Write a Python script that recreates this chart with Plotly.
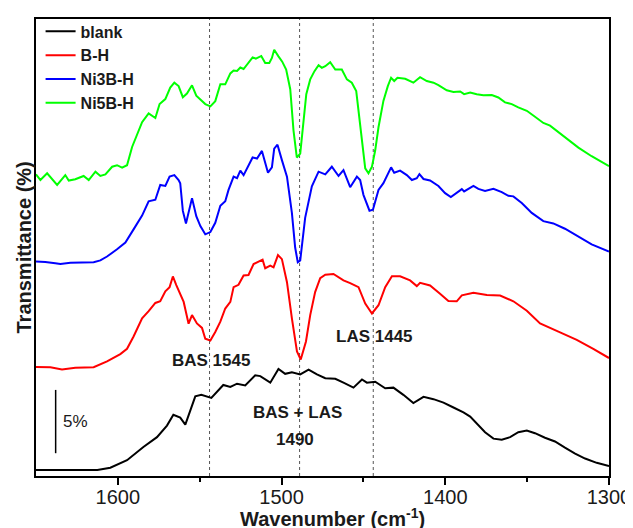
import plotly.graph_objects as go

# ---- data (wavenumber in cm^-1, offset transmittance in %) ----
blank_x = [1650, 1641, 1632, 1623, 1612.5, 1604.6, 1594.4, 1584.4, 1576.1, 1570, 1566.1, 1561.9, 1558.8,
           1552.7, 1549, 1542.9, 1535.6, 1531.3, 1527.2, 1522.2, 1516.1, 1513, 1506.9, 1501.9, 1497.8,
           1493.7, 1488.6, 1483.5, 1478.4, 1473.3, 1467.2, 1462.2, 1456.1, 1450.9, 1447.9, 1442.8, 1436.7,
           1431.7, 1425.6, 1419.5, 1413.3, 1407.2, 1401.1, 1395, 1388.9, 1384.8, 1380.8, 1375.7, 1370.6,
           1365.5, 1360.4, 1355.4, 1350.2, 1345.2, 1339.1, 1333, 1326.9, 1320.7, 1314.6, 1307.5, 1300]
blank_y = [0.47, 0.47, 0.51, 0.47, 0.47, 0.65, 1.25, 2.29, 3.07, 3.98, 4.84, 4.61, 4.06,
           6.29, 6.41, 6.17, 7.19, 7.03, 7.29, 7.15, 7.95, 7.89, 7.37, 8.46, 8.07,
           8.20, 8.02, 8.41, 8.02, 7.73, 7.68, 7.37, 6.98, 7.63, 7.37, 7.45, 6.93,
           6.98, 6.41, 5.76, 6.25, 6.07, 5.80, 5.41, 5.02, 4.69, 4.12, 3.46, 2.95,
           2.87, 3.07, 3.46, 3.59, 3.38, 3.02, 2.73, 2.24, 1.77, 1.38, 1.04, 0.78]

bh_x = [1650, 1641.2, 1634.1, 1626, 1614.8, 1606.6, 1598.5, 1594.4, 1590.4, 1585.2, 1581.2, 1577.1, 1574.1,
        1571, 1568.4, 1566.4, 1564.3, 1561.9, 1559.8, 1556.8, 1554.7, 1551.7, 1548.6, 1546.6, 1543.5,
        1540.5, 1537.4, 1534.4, 1531.3, 1529.3, 1526.3, 1523.2, 1520.2, 1517.1, 1514.1, 1511.6, 1510,
        1506.9, 1504.9, 1502.2, 1499.8, 1496.7, 1493.7, 1490.6, 1488.3, 1485.1, 1482.5, 1479.5, 1476.4,
        1473.3, 1468.3, 1462.2, 1458.1, 1453, 1448.9, 1444.8, 1440.8, 1436.7, 1432.6, 1427.6, 1421.5,
        1417.4, 1415.4, 1409.3, 1403.2, 1398.1, 1393, 1389.9, 1382.8, 1374.6, 1366.5, 1358.4, 1350.2,
        1342.1, 1330.9, 1319.7, 1309.6, 1300]
bh_y = [8.62, 8.59, 8.41, 8.55, 8.59, 9.06, 9.63, 10.05, 11.02, 12.45, 13.02, 13.67, 13.80,
        14.59, 14.92, 15.76, 15.08, 14.40, 13.75, 12.03, 12.71, 12.05, 11.70, 10.84, 10.70,
        11.37, 12.19, 13.23, 13.75, 14.92, 15.10, 15.84, 15.88, 16.74, 16.93, 17.09, 16.41,
        16.62, 16.48, 17.45, 17.13, 15.31, 12.45, 9.84, 9.20, 10.63, 12.71, 14.53, 15.63,
        15.90, 15.96, 15.45, 15.23, 14.92, 13.62, 12.84, 13.49, 14.92, 15.78, 15.78, 15.45,
        15.00, 15.26, 15.05, 14.40, 13.83, 13.80, 14.27, 14.48, 14.30, 14.26, 13.80, 13.05,
        12.05, 11.41, 10.76, 10.05, 9.32]

ni3_x = [1650, 1644.3, 1638.2, 1635.1, 1629, 1622.9, 1614.8, 1610.7, 1606.6, 1600.5, 1595.4, 1590.4, 1585.2,
         1581.2, 1577.1, 1574.1, 1571, 1568.4, 1565.5, 1562.9, 1561.9, 1560.3, 1558.4, 1554.7, 1552.1,
         1549.6, 1546.6, 1543.5, 1540.5, 1537.4, 1534.4, 1532.4, 1529.3, 1527.2, 1525.2, 1523.2, 1520.2,
         1517.7, 1515, 1512, 1508.3, 1505.9, 1504.5, 1502.5, 1499.8, 1496.7, 1493.7, 1491.7, 1490.1,
         1488.6, 1485.6, 1481.5, 1477.4, 1473.3, 1469.3, 1465.2, 1462.2, 1458.1, 1454, 1452, 1450,
         1446.3, 1444.2, 1440.8, 1437.8, 1433.1, 1431.2, 1427.6, 1423.5, 1420.4, 1417.4, 1415.8, 1413.3,
         1409.3, 1404.2, 1400.1, 1396.6, 1393, 1389.9, 1388.5, 1384.8, 1382.8, 1379.8, 1375.7, 1370.6,
         1365.5, 1361.5, 1358.4, 1353.3, 1347.2, 1340.1, 1334, 1326.9, 1318.7, 1310.6, 1300]
ni3_y = [16.95, 16.91, 16.80, 16.74, 16.84, 16.88, 16.88, 17.03, 17.34, 17.91, 18.44, 19.48, 20.57,
         21.70, 21.82, 22.99, 22.91, 23.65, 23.77, 23.38, 23.13, 20.94, 19.95, 21.95, 20.52,
         19.74, 19.09, 19.27, 20.00, 21.35, 21.70, 22.60, 23.65, 23.52, 24.12, 23.77, 24.55,
         25.16, 25.08, 25.68, 23.96, 24.38, 25.86, 26.17, 24.95, 23.65, 20.78, 18.05, 16.88,
         17.03, 20.39, 22.89, 24.04, 23.83, 24.43, 23.70, 24.16, 22.81, 23.65, 23.38, 22.21,
         20.96, 21.04, 22.60, 23.13, 24.38, 23.96, 24.12, 23.77, 23.38, 23.52, 23.85, 23.46,
         23.34, 22.91, 22.34, 22.03, 22.34, 22.66, 22.48, 22.73, 22.91, 22.68, 22.52, 22.68,
         22.42, 22.13, 22.09, 21.56, 20.78, 20.13, 19.95, 19.53, 18.91, 18.30, 17.73]

ni5_x = [1650, 1647.3, 1643.2, 1640.2, 1637.1, 1632.1, 1630, 1626, 1620.9, 1617.8, 1613.7, 1610.7, 1607.6,
         1603.5, 1600.5, 1597.4, 1594.4, 1591.3, 1588.3, 1585.2, 1581.2, 1577.1, 1574.5, 1571, 1568,
         1565.5, 1562.9, 1560.3, 1557.8, 1554.7, 1552.1, 1549.6, 1546.6, 1543.5, 1540.5, 1537.4, 1534.4,
         1531.3, 1529.3, 1527.2, 1525.2, 1523.2, 1520.5, 1517.7, 1515.7, 1512.4, 1510, 1507.5, 1505.9,
         1504.5, 1501.9, 1499.6, 1497.2, 1494.7, 1492.7, 1490.7, 1488.6, 1486.6, 1484.9, 1482.5, 1479.9,
         1477.4, 1475.4, 1473.3, 1470.3, 1467.2, 1463.2, 1460.1, 1457.1, 1454.4, 1452.4, 1450.3, 1448.9,
         1446.9, 1444.8, 1442.8, 1440.8, 1437.8, 1435.1, 1433.1, 1431.2, 1429.2, 1424.5, 1419.5, 1415.4,
         1411.3, 1407.2, 1404.2, 1399.1, 1395, 1390.9, 1388.5, 1384.8, 1380.8, 1376.7, 1371.6, 1367.6,
         1363.5, 1359.4, 1355.4, 1350.2, 1345.2, 1340.1, 1336, 1330.9, 1324.8, 1318.7, 1310.6, 1300]
ni5_y = [23.83, 23.38, 23.91, 23.46, 22.99, 23.77, 23.34, 23.44, 23.70, 23.38, 24.04, 23.70, 23.83,
         24.43, 24.55, 24.35, 24.55, 25.99, 27.03, 27.95, 28.65, 28.28, 29.38, 29.77, 30.68,
         31.07, 30.80, 29.92, 30.21, 30.86, 30.04, 29.77, 29.38, 29.20, 29.61, 30.94, 30.94,
         31.80, 32.03, 32.00, 32.27, 32.15, 32.63, 33.07, 32.97, 33.18, 32.63, 32.63, 33.02,
         33.67, 33.15, 32.73, 32.11, 30.55, 27.29, 25.16, 25.47, 28.07, 30.16, 31.33, 31.98,
         32.45, 32.24, 32.37, 32.68, 32.11, 32.11, 31.33, 31.07, 30.41, 28.07, 25.47, 24.30,
         23.91, 24.43, 25.73, 27.55, 29.63, 30.80, 31.46, 31.20, 31.46, 31.38, 31.07, 31.51,
         31.20, 31.07, 30.88, 30.47, 30.34, 30.37, 30.16, 30.29, 30.16, 30.08, 30.10, 29.90,
         29.51, 29.38, 29.12, 28.85, 28.38, 27.89, 27.68, 27.16, 26.59, 25.94, 25.26, 24.48]

series_names = ["blank", "B-H", "Ni3B-H", "Ni5B-H"]
series_colors = ["#000000", "#ff0000", "#0000ff", "#00ff00"]
band_positions = [1544, 1489, 1444]
band_labels = [("BAS 1545", 1543, 9.1), ("LAS 1445", 1443, 11.0),
               ("BAS + LAS", 1490.5, 5.0), ("1490", 1491.5, 2.9)]
scale_bar = (1638, 1.8, 6.8)  # x, y0, y1 -> 5 %
x_range = [1650, 1300]
y_range = [0, 36.1]
x_tick_vals = [1600, 1500, 1400, 1300]
x_minor_vals = [1550, 1450, 1350]

FONT = "Arial, Liberation Sans, sans-serif"
TXT = "#1a1a1a"

fig = go.Figure()
for name, color, xs, ys in zip(series_names, series_colors,
                               [blank_x, bh_x, ni3_x, ni5_x],
                               [blank_y, bh_y, ni3_y, ni5_y]):
    fig.add_trace(go.Scatter(x=xs, y=ys, mode="lines", name="<b>%s</b>" % name,
                             line=dict(color=color, width=2)))

for bp in band_positions:
    fig.add_shape(type="line", xref="x", yref="paper", x0=bp, x1=bp, y0=0, y1=1,
                  line=dict(color="#555555", width=1, dash="dot"), layer="below")

for text, xv, yv in band_labels:
    fig.add_annotation(x=xv, y=yv, text="<b>%s</b>" % text, showarrow=False,
                       font=dict(family=FONT, size=17, color=TXT))

sx, sy0, sy1 = scale_bar
fig.add_shape(type="line", xref="x", yref="y", x0=sx, x1=sx, y0=sy0, y1=sy1,
              line=dict(color="#000000", width=1.5))
fig.add_annotation(x=1626, y=(sy0 + sy1) / 2, text="5%", showarrow=False,
                   font=dict(family=FONT, size=17, color=TXT))

# axis titles as annotations (fixed positions)
fig.add_annotation(xref="paper", yref="paper", x=0.517, y=0, yanchor="middle", yshift=-41,
                   text="<b>Wavenumber (cm<sup>-1</sup>)</b>", showarrow=False,
                   font=dict(family=FONT, size=20, color=TXT))
fig.add_annotation(xref="paper", yref="paper", x=0, y=0.5, xanchor="center", xshift=-13,
                   text="<b>Transmittance (%)</b>", textangle=-90, showarrow=False,
                   font=dict(family=FONT, size=20, color=TXT))

# the page body adds an 8 px offset, so the figure is 8 px smaller than the window
fig.update_layout(
    width=625, height=520,
    margin=dict(l=28, r=24, t=6, b=52),
    paper_bgcolor="white", plot_bgcolor="white",
    font=dict(family=FONT, color="#000000"),
    showlegend=True,
    legend=dict(x=0.008, y=1.01, xanchor="left", yanchor="top", traceorder="normal",
                bgcolor="rgba(0,0,0,0)", font=dict(family=FONT, size=16, color=TXT),
                tracegroupgap=0),
)

fig.update_xaxes(range=x_range, showline=True, linecolor="black", linewidth=2, mirror=True,
                 showgrid=False, zeroline=False, ticks="outside", ticklen=7, tickwidth=1.5,
                 tickcolor="black", tickvals=x_tick_vals, automargin=False,
                 ticklabelstandoff=-5,
                 tickfont=dict(family=FONT, size=20, color=TXT),
                 minor=dict(tickvals=x_minor_vals, ticks="outside", ticklen=4,
                            tickwidth=1.5, tickcolor="black"))
fig.update_yaxes(range=y_range, showline=True, linecolor="black", linewidth=2, mirror=True,
                 showgrid=False, zeroline=False, showticklabels=False, ticks="",
                 automargin=False)

fig.write_html("out.html")
